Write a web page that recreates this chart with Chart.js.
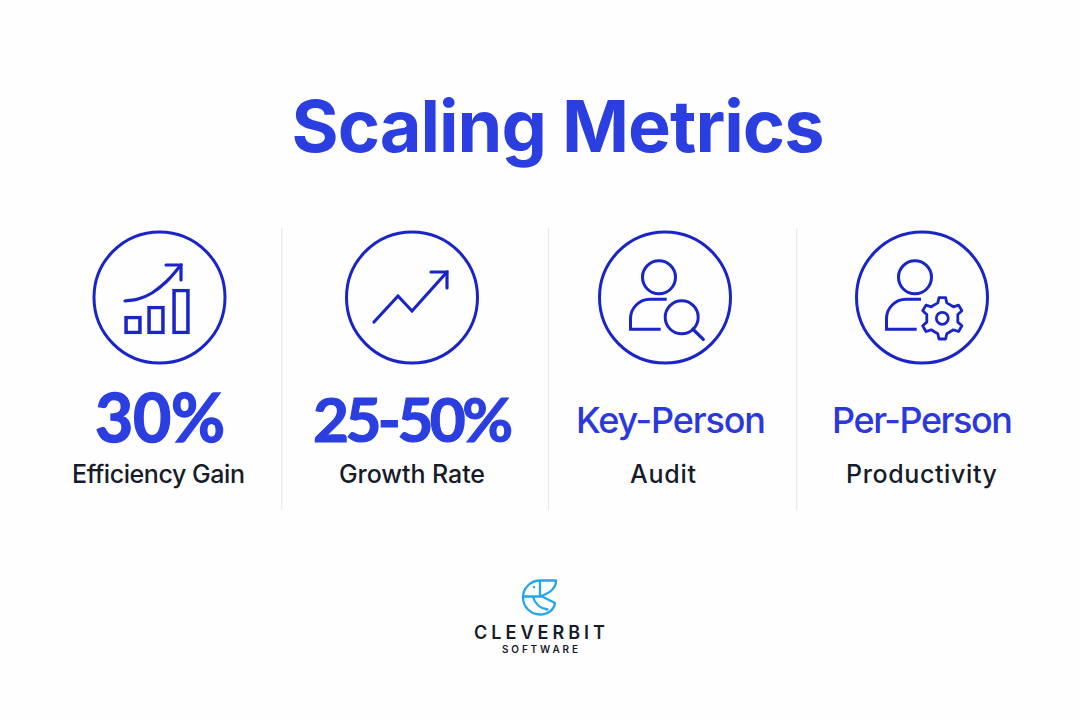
<!DOCTYPE html>
<html>
<head>
<meta charset="utf-8">
<title>Scaling Metrics</title>
<script src="https://cdn.jsdelivr.net/npm/chart.js@4"></script>
<style>
    html, body { margin: 0; padding: 0; background: #fefefe; }
    #page { position: relative; width: 1080px; height: 720px; overflow: hidden; }
    #art { position: absolute; left: 0; top: 0; }
    #art text { text-anchor: middle; }
    canvas { position: absolute; }
    #barsBox { position: absolute; left: 120px; top: 262px; width: 75px; height: 75px; }
    #zigzagBox { position: absolute; left: 365px; top: 262px; width: 90px; height: 70px; }
</style>
</head>
<body>
<div id="page">
    <svg id="art" width="1080" height="720" xmlns="http://www.w3.org/2000/svg"></svg>
    <div id="barsBox"><canvas id="barsChart"></canvas></div>
    <div id="zigzagBox"><canvas id="zigzagChart"></canvas></div>
</div>
<script>
const titleText = 'Scaling Metrics';
const metricValues = ['30%', '25-50%', 'Key-Person', 'Per-Person'];
const metricLabels = ['Efficiency Gain', 'Growth Rate', 'Audit', 'Productivity'];
const logoName = 'CLEVERBIT';
const logoSub = 'SOFTWARE';

// first icon: three small bars and a rising curve
const barSlots = [13, 36, 61];
const barHeights = [18, 28, 45];
const curveX = [5, 18, 32, 47, 61];
const curveY = [33, 35, 41, 53, 69];
const curveHeadX = [46, 61, 61];
const curveHeadY = [69, 69, 54];

// second icon: zigzag growth line
const zigzagX = [9, 33, 47, 82];
const zigzagY = [10, 36, 21, 60];
const zigzagHeadX = [66, 82, 82];
const zigzagHeadY = [60, 60, 44];

const BLUE = '#2b3fe0';
const MID_BLUE = '#2a38dc';
const ICON = '#1a25c6';
const INK = '#171c2b';
const INTER = 'Inter, sans-serif';
const LATO = 'Lato, sans-serif';
const SVGNS = 'http://www.w3.org/2000/svg';
const art = document.getElementById('art');

const add = (tag, attrs, text) => {
    const el = document.createElementNS(SVGNS, tag);
    Object.keys(attrs).forEach(k => el.setAttribute(k, attrs[k]));
    if (text) el.textContent = text;
    art.appendChild(el);
    return el;
};

const label = (text, x, y, size, weight, width, fill, family, thicken) => {
    const attrs = { x: x, y: y, 'font-family': family || INTER, 'font-size': size, 'font-weight': weight, fill: fill, textLength: width, lengthAdjust: 'spacing' };
    if (thicken) {
        attrs.stroke = fill;
        attrs['stroke-width'] = thicken;
    }
    add('text', attrs, text);
};

// dividers
[281.7, 548.5, 796.7].forEach(x => {
    add('line', { x1: x, x2: x, y1: 228, y2: 510, stroke: '#e7e9f0', 'stroke-width': 1.2 });
});

// icon rings
[159.5, 412, 665, 922].forEach(cx => {
    add('circle', { cx: cx, cy: 297.5, r: 65.5, fill: 'none', stroke: ICON, 'stroke-width': 3 });
});

// text
label(titleText, 558, 152, 72, 700, 533, BLUE);
label(metricValues[0], 160, 442, 66, 700, 130, BLUE, LATO, 1.4);
label(metricValues[1], 413, 441.5, 62, 700, 200, BLUE, LATO, 1.2);
label(metricValues[2], 671, 433, 36, 500, 190, MID_BLUE);
label(metricValues[3], 922.5, 433, 36, 500, 181, MID_BLUE);
label(metricLabels[0], 158.5, 483, 25, 500, 173, INK);
label(metricLabels[1], 412, 483, 25, 500, 146, INK);
label(metricLabels[2], 663, 483, 25, 500, 66, INK);
label(metricLabels[3], 921.5, 483, 25, 500, 151, INK);
label(logoName, 539.5, 639, 18, 600, 131, INK);
label(logoSub, 540, 653, 10, 600, 76, INK);

// person icons
const person = (hx, dx, endX) => {
    const iconAttrs = { fill: 'none', stroke: ICON, 'stroke-width': 3 };
    add('circle', Object.assign({ cx: hx, cy: 277.3, r: 16.5 }, iconAttrs));
    add('path', Object.assign({
        d: `M${hx + dx} 299.3 H${hx - 9} A19.5 19.5 0 0 0 ${hx - 28.5} 318.8 V329.3 H${endX}`
    }, iconAttrs));
};
person(659, 7.7, 660.7);
person(915, 6, 916.7);

// magnifier
add('circle', { cx: 681.7, cy: 317.3, r: 16.5, fill: 'none', stroke: ICON, 'stroke-width': 3 });
add('line', { x1: 692.7, y1: 329, x2: 703.3, y2: 339.3, stroke: ICON, 'stroke-width': 3.2, 'stroke-linecap': 'round' });

// gear
const gearPath = (cx, cy, rOut, rIn, teeth) => {
    let d = '';
    for (let i = 0; i < teeth; i++) {
        const a = -Math.PI / 2 + i * 2 * Math.PI / teeth;
        const step = 2 * Math.PI / teeth;
        const pts = [[rIn, a - step * 0.27], [rOut, a - step * 0.15], [rOut, a + step * 0.15], [rIn, a + step * 0.27]];
        pts.forEach((p, j) => {
            const x = (cx + p[0] * Math.cos(p[1])).toFixed(1);
            const y = (cy + p[0] * Math.sin(p[1])).toFixed(1);
            d += (i === 0 && j === 0 ? 'M' : 'L') + x + ' ' + y + ' ';
        });
    }
    return d + 'Z';
};
add('path', { d: gearPath(942.3, 318.3, 21, 16, 6), fill: 'none', stroke: ICON, 'stroke-width': 2.8, 'stroke-linejoin': 'round' });
add('circle', { cx: 942.3, cy: 318.3, r: 6, fill: 'none', stroke: ICON, 'stroke-width': 2.8 });

// logo bird
const logoAttrs = { fill: 'none', stroke: '#23a6ec', 'stroke-width': 2.3, 'stroke-linejoin': 'round', 'stroke-linecap': 'round' };
add('path', Object.assign({ d: 'M556 580.5 H540 A17 17 0 0 0 540 614.5 C548 614.5 554 610 555 603 L541 596 C550 593 556 588 556 580.5 Z' }, logoAttrs));
add('path', Object.assign({ d: 'M524 596.5 H541 M533 597 C535 604 541 608.5 547.5 609.5 M540 582 V596' }, logoAttrs));
add('circle', { cx: 534, cy: 587, r: 1.2, fill: '#23a6ec' });

const toPoints = (xs, ys) => xs.map((x, i) => ({ x: x, y: ys[i] }));

const lineSet = (xs, ys, tension) => ({
    type: 'line',
    data: toPoints(xs, ys),
    borderColor: ICON,
    borderWidth: 3.2,
    borderCapStyle: 'round',
    borderJoinStyle: 'miter',
    pointRadius: 0,
    tension: tension || 0,
    fill: false,
});

const iconOptions = (xMax, yMin, yMax) => ({
    responsive: true,
    maintainAspectRatio: false,
    animation: false,
    layout: { padding: 0 },
    plugins: { legend: { display: false }, tooltip: { enabled: false } },
    scales: {
        x: { type: 'linear', min: 0, max: xMax, offset: false, display: false },
        y: { type: 'linear', min: yMin, max: yMax, display: false },
    },
});

new Chart(document.getElementById('barsChart').getContext('2d'), {
    type: 'bar',
    data: {
        datasets: [
            {
                data: toPoints(barSlots, barHeights),
                backgroundColor: 'rgba(0,0,0,0)',
                borderColor: ICON,
                borderWidth: 3,
                borderSkipped: false,
                barThickness: 17,
            },
            lineSet(curveX, curveY, 0.4),
            lineSet(curveHeadX, curveHeadY),
        ],
    },
    options: iconOptions(75, -3, 72),
});

new Chart(document.getElementById('zigzagChart').getContext('2d'), {
    type: 'line',
    data: {
        datasets: [
            lineSet(zigzagX, zigzagY),
            lineSet(zigzagHeadX, zigzagHeadY),
        ],
    },
    options: iconOptions(90, 0, 70),
});
</script>
</body>
</html>
